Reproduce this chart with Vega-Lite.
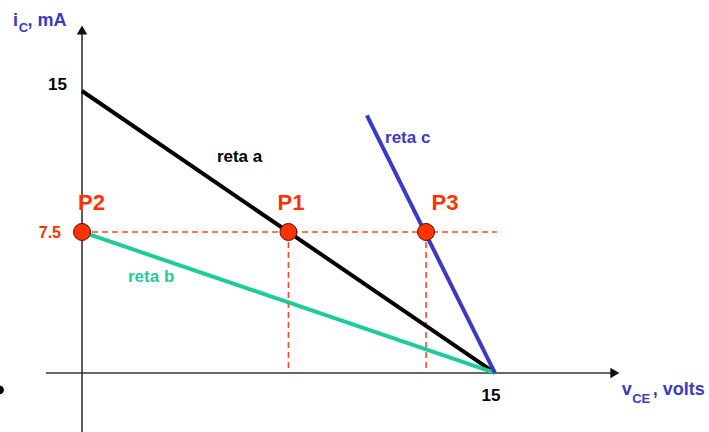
{
  "$schema": "https://vega.github.io/schema/vega-lite/v6.json",
  "width": 709,
  "height": 432,
  "padding": 0,
  "autosize": "none",
  "background": "white",
  "config": {"view": {"stroke": null}},
  "datasets": {
    "axes": [
      {"x": -1.31, "y": 0, "x2": 19.3, "y2": 0},
      {"x": 0, "y": -3.3, "x2": 0, "y2": 18.2}
    ],
    "guides": [
      {"x": 0, "y": 7.5, "x2": 15.07, "y2": 7.5},
      {"x": 7.5, "y": 7.5, "x2": 7.5, "y2": 0},
      {"x": 12.5, "y": 7.5, "x2": 12.5, "y2": 0}
    ],
    "lines": [
      {"reta": "a", "x": 0, "y": 15},
      {"reta": "a", "x": 15, "y": 0},
      {"reta": "b", "x": 0, "y": 7.5},
      {"reta": "b", "x": 15, "y": 0},
      {"reta": "c", "x": 10.35, "y": 13.7},
      {"reta": "c", "x": 15, "y": 0}
    ],
    "points": [
      {"name": "P1", "x": 7.5, "y": 7.5},
      {"name": "P2", "x": 0, "y": 7.5},
      {"name": "P3", "x": 12.5, "y": 7.5}
    ],
    "arrowRight": [{"x": 19.36, "y": 0}],
    "arrowUp": [{"x": 0, "y": 18.24}],
    "bullet": [{"x": -3.0, "y": -0.9}]
  },
  "encoding": {
    "x": {"field": "x", "type": "quantitative", "scale": {"domain": [-2.98, 22.78], "nice": false, "zero": false}, "axis": null},
    "y": {"field": "y", "type": "quantitative", "scale": {"domain": [-3.14, 19.84], "nice": false, "zero": false}, "axis": null}
  },
  "layer": [
    {
      "data": {"name": "axes"},
      "mark": {"type": "rule", "color": "#333333", "strokeWidth": 1.6},
      "encoding": {"x2": {"field": "x2"}, "y2": {"field": "y2"}}
    },
    {
      "data": {"name": "arrowRight"},
      "mark": {"type": "point", "shape": "triangle-right", "filled": true, "color": "#111111", "size": 110, "opacity": 1}
    },
    {
      "data": {"name": "arrowUp"},
      "mark": {"type": "point", "shape": "triangle-up", "filled": true, "color": "#111111", "size": 110, "opacity": 1}
    },
    {
      "data": {"name": "guides"},
      "mark": {"type": "rule", "color": "#ff4a26", "strokeWidth": 1.6, "strokeDash": [6, 4]},
      "encoding": {"x2": {"field": "x2"}, "y2": {"field": "y2"}}
    },
    {
      "data": {"name": "lines"},
      "mark": {"type": "line", "strokeWidth": 4},
      "encoding": {
        "detail": {"field": "reta"},
        "color": {
          "field": "reta",
          "type": "nominal",
          "scale": {"domain": ["a", "b", "c"], "range": ["#000000", "#1fcc99", "#3a3ac4"]},
          "legend": null
        }
      }
    },
    {
      "data": {"name": "points"},
      "mark": {"type": "point", "shape": "circle", "filled": true, "fill": "#ff3300", "stroke": "#5a1000", "strokeWidth": 1, "size": 290, "opacity": 1}
    },
    {
      "data": {"name": "bullet"},
      "mark": {"type": "point", "shape": "circle", "filled": true, "color": "#000000", "size": 80, "opacity": 1}
    },
    {
      "data": {"values": [
        {"t": "P2", "x": 0.345, "y": 8.67},
        {"t": "P1", "x": 7.59, "y": 8.67},
        {"t": "P3", "x": 13.19, "y": 8.67}
      ]},
      "mark": {"type": "text", "align": "center", "baseline": "alphabetic", "font": "Liberation Sans", "fontWeight": "bold", "fontSize": 22, "color": "#ff3300"},
      "encoding": {"text": {"field": "t"}}
    },
    {
      "data": {"values": [{"t": "7.5", "x": -0.763, "y": 7.18}]},
      "mark": {"type": "text", "align": "right", "baseline": "alphabetic", "font": "Liberation Sans", "fontWeight": "bold", "fontSize": 16, "color": "#ff3300"},
      "encoding": {"text": {"field": "t"}}
    },
    {
      "data": {"values": [{"t": "15", "x": -0.545, "y": 15.05}]},
      "mark": {"type": "text", "align": "right", "baseline": "alphabetic", "font": "Liberation Sans", "fontWeight": "bold", "fontSize": 17, "color": "#000000"},
      "encoding": {"text": {"field": "t"}}
    },
    {
      "data": {"values": [{"t": "15", "x": 14.86, "y": -1.49}]},
      "mark": {"type": "text", "align": "center", "baseline": "alphabetic", "font": "Liberation Sans", "fontWeight": "bold", "fontSize": 17, "color": "#000000"},
      "encoding": {"text": {"field": "t"}}
    },
    {
      "data": {"values": [
        {"t": "reta a", "reta": "a", "x": 4.9, "y": 11.22},
        {"t": "reta b", "reta": "b", "x": 1.67, "y": 4.84},
        {"t": "reta c", "reta": "c", "x": 11.01, "y": 12.23}
      ]},
      "mark": {"type": "text", "align": "left", "baseline": "alphabetic", "font": "Liberation Sans", "fontWeight": "bold", "fontSize": 17},
      "encoding": {
        "text": {"field": "t"},
        "color": {"field": "reta", "type": "nominal", "scale": {"domain": ["a", "b", "c"], "range": ["#000000", "#1fcc99", "#3a3ac4"]}, "legend": null}
      }
    },
    {
      "data": {"values": [
        {"t": "i", "x": -2.506, "y": 18.46},
        {"t": ", mA", "x": -1.98, "y": 18.46},
        {"t": "v", "x": 19.61, "y": -1.17},
        {"t": ", volts", "x": 20.74, "y": -1.17}
      ]},
      "mark": {"type": "text", "align": "left", "baseline": "alphabetic", "font": "Liberation Sans", "fontWeight": "bold", "fontSize": 18, "color": "#3a3ac4"},
      "encoding": {"text": {"field": "t"}}
    },
    {
      "data": {"values": [
        {"t": "C", "x": -2.3, "y": 18.14},
        {"t": "CE", "x": 19.99, "y": -1.6}
      ]},
      "mark": {"type": "text", "align": "left", "baseline": "alphabetic", "font": "Liberation Sans", "fontWeight": "bold", "fontSize": 13, "color": "#3a3ac4"},
      "encoding": {"text": {"field": "t"}}
    }
  ]
}
